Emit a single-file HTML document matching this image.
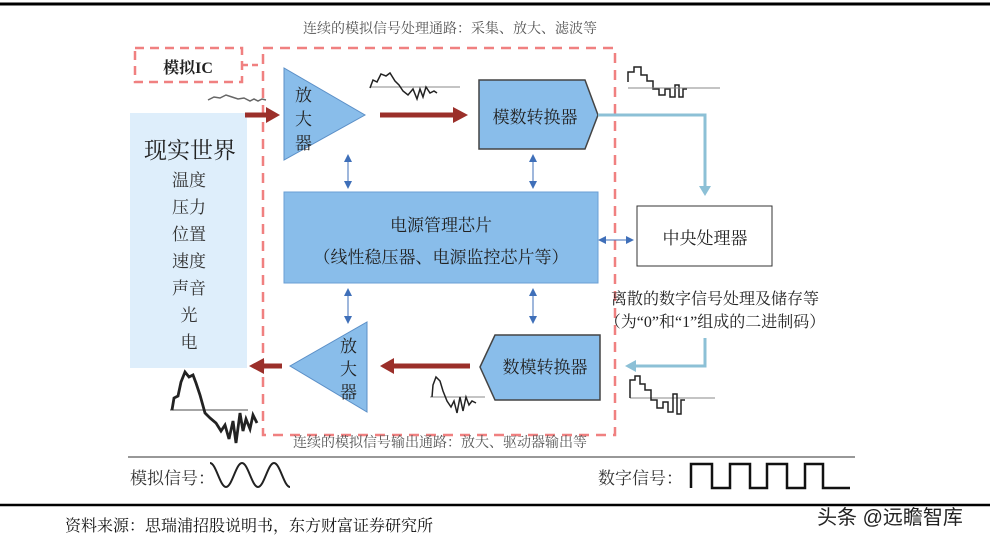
<!DOCTYPE html>
<html><head><meta charset="utf-8"><style>
body{margin:0;background:#fff}
svg{display:block;font-family:"Liberation Serif","Noto Serif CJK SC",serif}
.s{font-family:"Liberation Sans","Noto Sans CJK SC",sans-serif}
</style></head><body>
<svg width="1001" height="546" viewBox="0 0 1001 546">
<defs>
<marker id="rb" markerWidth="8" markerHeight="8" refX="4" refY="4" orient="auto"><path d="M0,0L8,4L0,8Z" fill="#3f6fb9"/></marker>
<marker id="rs" markerWidth="8" markerHeight="8" refX="4" refY="4" orient="auto-start-reverse"><path d="M0,0L8,4L0,8Z" fill="#3f6fb9"/></marker>
</defs>
<line x1="0" y1="4" x2="990" y2="4" stroke="#000" stroke-width="3"/>
<text x="450" y="33" font-size="14" fill="#555" text-anchor="middle">连续的模拟信号处理通路：采集、放大、滤波等</text>
<rect x="135" y="48" width="107" height="34" fill="none" stroke="#f08080" stroke-width="2.5" stroke-dasharray="9,6"/>
<text x="188" y="73" font-size="16" font-weight="bold" text-anchor="middle" fill="#222">模拟IC</text>
<path d="M242,65H262" stroke="#f08080" stroke-width="2.5" stroke-dasharray="6,4"/>
<rect x="263" y="48" width="352" height="387" fill="none" stroke="#f08080" stroke-width="2.5" stroke-dasharray="10,7"/>
<rect x="130" y="113" width="117" height="255" fill="#deeefb"/>
<text x="190" y="158" font-size="23" text-anchor="middle" fill="#222">现实世界</text>
<g font-size="17" text-anchor="middle" fill="#333">
<text x="189" y="186">温度</text><text x="189" y="213">压力</text><text x="189" y="240">位置</text><text x="189" y="267">速度</text><text x="189" y="294">声音</text><text x="189" y="321">光</text><text x="189" y="348">电</text></g>
<polygon points="284,68 284,160 365,115" fill="#89bdea" stroke="#5b8fc7"/>
<g font-size="17" fill="#222"><text x="295" y="101">放</text><text x="295" y="125">大</text><text x="295" y="149">器</text></g>
<path d="M245,115H268" stroke="#9b2f2a" stroke-width="5"/><path d="M266,107L280,115L266,123Z" fill="#9b2f2a"/>
<path d="M380,115H455" stroke="#9b2f2a" stroke-width="5"/><path d="M453,107L468,115L453,123Z" fill="#9b2f2a"/>
<polygon points="479,80 585,80 598,115 585,149 479,149" fill="#89bdea" stroke="#444" stroke-width="1.5"/>
<text x="535" y="123" font-size="17" text-anchor="middle" fill="#222">模数转换器</text>
<path d="M598,115H705V188" fill="none" stroke="#8cc0d6" stroke-width="3"/><path d="M699,186L705,196L711,186Z" fill="#8cc0d6"/>
<rect x="637" y="206" width="135" height="60" fill="#fff" stroke="#333"/>
<text x="705" y="244" font-size="17" text-anchor="middle" fill="#222">中央处理器</text>
<rect x="284" y="192" width="314" height="91" fill="#89bdea" stroke="#6a9fd4"/>
<text x="441" y="231" font-size="17" text-anchor="middle" fill="#222">电源管理芯片</text>
<text x="441" y="263" font-size="17" text-anchor="middle" fill="#222">（线性稳压器、电源监控芯片等）</text>
<g stroke="#3f6fb9" stroke-width="1" marker-start="url(#rs)" marker-end="url(#rb)">
<line x1="348" y1="158" x2="348" y2="185"/><line x1="533" y1="158" x2="533" y2="185"/>
<line x1="348" y1="292" x2="348" y2="320"/><line x1="533" y1="292" x2="533" y2="320"/>
<line x1="602" y1="240" x2="630" y2="240"/></g>
<text x="715" y="304" font-size="16" text-anchor="middle" fill="#222">离散的数字信号处理及储存等</text>
<text x="715" y="327" font-size="16" text-anchor="middle" fill="#222">（为“0”和“1”组成的二进制码）</text>
<path d="M705,338V366H634" fill="none" stroke="#8cc0d6" stroke-width="3"/><path d="M636,360L625,366L636,372Z" fill="#8cc0d6"/>
<polygon points="480,367 495,335 600,335 600,400 495,400" fill="#89bdea" stroke="#444" stroke-width="1.5"/>
<text x="545" y="373" font-size="17" text-anchor="middle" fill="#222">数模转换器</text>
<path d="M470,366H392" stroke="#9b2f2a" stroke-width="5"/><path d="M394,358L380,366L394,374Z" fill="#9b2f2a"/>
<polygon points="367,322 367,412 290,366" fill="#89bdea" stroke="#5b8fc7"/>
<g font-size="17" fill="#222"><text x="340" y="352">放</text><text x="340" y="375">大</text><text x="340" y="398">器</text></g>
<path d="M282,366H262" stroke="#9b2f2a" stroke-width="5"/><path d="M264,358L249,366L264,374Z" fill="#9b2f2a"/>
<g fill="none" stroke="#222" stroke-width="1.5">
<path d="M208,100 l6,-3 6,1 6,-3 6,2 6,2 6,-1 6,3 4,-2 4,2 4,-2 4,1" stroke="#666"/>
<line x1="370" y1="87" x2="460" y2="87" stroke="#888" stroke-width="1"/>
<path d="M370,88 l3,-8 4,2 4,-8 5,2 4,-3 5,8 4,4 4,6 5,4 5,-6 4,10 3,-10 3,8 3,-10 4,6 4,-2 3,2"/>
<path d="M628,82 l0,-10 6,0 0,-5 7,0 0,8 6,0 0,6 6,0 0,8 6,0 0,6 6,0 0,-6 5,0 0,8 5,0 0,-12 4,0 0,12 4,0 0,-8 4,0"/>
<line x1="628" y1="88" x2="720" y2="88" stroke="#888" stroke-width="1"/>
<line x1="630" y1="398" x2="715" y2="398" stroke="#888" stroke-width="1"/>
<path d="M630,398 l0,-18 5,0 0,-4 5,0 0,8 5,0 0,6 6,0 0,10 6,0 0,8 6,0 0,-6 5,0 0,10 5,0 0,-18 4,0 0,20 4,0 0,-14 4,0"/>
<line x1="430" y1="397" x2="485" y2="397" stroke="#888" stroke-width="1"/>
<path d="M432,397 l1,-12 3,-8 4,4 3,10 4,10 4,6 3,-6 3,12 3,-16 3,14 3,-14 3,8 3,-4 4,2"/>
<line x1="170" y1="410" x2="248" y2="410" stroke="#888" stroke-width="1.5"/>
<path d="M172,410 l2,-12 4,-2 3,-14 4,-10 4,5 4,-2 3,8 4,12 5,18 5,5 6,5 5,8 4,-6 4,14 4,-18 3,22 4,-30 3,18 3,-12 4,10 3,-14 4,8" stroke-width="2.8"/>
</g>
<text x="440" y="447" font-size="14" text-anchor="middle" fill="#555">连续的模拟信号输出通路：放大、驱动器输出等</text>
<line x1="128" y1="457" x2="855" y2="457" stroke="#777" stroke-width="1.5"/>
<text x="130" y="484" font-size="17" fill="#333">模拟信号：</text>
<path d="M210,463 C216,463 220,487 226,487 C232,487 236,463 242,463 C248,463 252,487 258,487 C264,487 268,463 274,463 C280,463 284,487 290,487" fill="none" stroke="#222" stroke-width="2"/>
<text x="598" y="484" font-size="17" fill="#333">数字信号：</text>
<path d="M691,488V464H712V488H730V464H750V488H767V464H787V488H805V464H823V488H850" fill="none" stroke="#111" stroke-width="2.5"/>
<line x1="0" y1="505" x2="990" y2="505" stroke="#000" stroke-width="2.5"/>
<text x="65" y="531" font-size="16" fill="#111">资料来源：思瑞浦招股说明书，东方财富证券研究所</text>
<text x="890" y="524" font-size="20" class="s" fill="#222" text-anchor="middle">头条 @远瞻智库</text>
</svg>
</body></html>
